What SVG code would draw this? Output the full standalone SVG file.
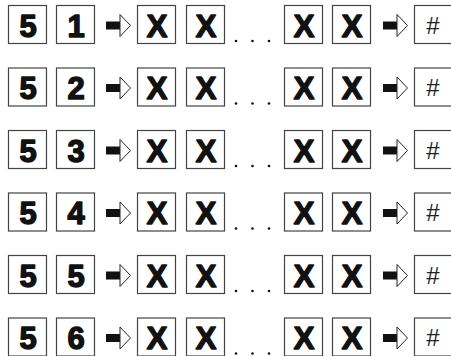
<svg xmlns="http://www.w3.org/2000/svg" width="451" height="356" viewBox="0 0 451 356">
<style>
.box{fill:#fff;stroke:#444;stroke-width:1.2}
.big{font-family:"Liberation Sans",Arial,sans-serif;font-weight:bold;font-size:31px;fill:#111;stroke:#111;stroke-width:1.4;stroke-linejoin:round;text-anchor:middle}
.hash{font-family:"Liberation Sans",Arial,sans-serif;font-size:24px;fill:#222;text-anchor:middle}
.bar{fill:#111}
.head{fill:#fff;stroke:#222;stroke-width:1}
.dot{fill:#111}
</style>
<defs>
<g id="arrow">
<rect class="bar" x="0" y="-4" width="14.5" height="8"/>
<polygon class="head" points="14,-11 24.5,0 14,11"/>
</g>
<g id="dots">
<circle class="dot" cx="236" cy="0" r="1.3"/>
<circle class="dot" cx="252.5" cy="0" r="1.3"/>
<circle class="dot" cx="269" cy="0" r="1.3"/>
</g>
</defs>
<g id="rows">
<g id="row1" transform="translate(0,5.5)">
<g id="r1-a"><rect class="box" x="8.5" y="0" width="38" height="38"/><text class="big" x="28" y="31">5</text></g>
<g id="r1-b"><rect class="box" x="56.5" y="0" width="38" height="38"/><text class="big" x="76" y="31">1</text></g>
<g id="r1-c"><rect class="box" x="137.5" y="0" width="38" height="38"/><text class="big" x="157" y="31">X</text></g>
<g id="r1-d"><rect class="box" x="186.5" y="0" width="38" height="38"/><text class="big" x="206" y="31">X</text></g>
<g id="r1-e"><rect class="box" x="284.5" y="0" width="38" height="38"/><text class="big" x="304" y="31">X</text></g>
<g id="r1-f"><rect class="box" x="332.5" y="0" width="38" height="38"/><text class="big" x="352" y="31">X</text></g>
<g id="r1-g"><rect class="box" x="414.5" y="0" width="38" height="38"/><text class="hash" x="433" y="28">#</text></g>
</g>
<g id="row2" transform="translate(0,68)">
<g id="r2-a"><rect class="box" x="8.5" y="0" width="38" height="38"/><text class="big" x="28" y="31">5</text></g>
<g id="r2-b"><rect class="box" x="56.5" y="0" width="38" height="38"/><text class="big" x="76" y="31">2</text></g>
<g id="r2-c"><rect class="box" x="137.5" y="0" width="38" height="38"/><text class="big" x="157" y="31">X</text></g>
<g id="r2-d"><rect class="box" x="186.5" y="0" width="38" height="38"/><text class="big" x="206" y="31">X</text></g>
<g id="r2-e"><rect class="box" x="284.5" y="0" width="38" height="38"/><text class="big" x="304" y="31">X</text></g>
<g id="r2-f"><rect class="box" x="332.5" y="0" width="38" height="38"/><text class="big" x="352" y="31">X</text></g>
<g id="r2-g"><rect class="box" x="414.5" y="0" width="38" height="38"/><text class="hash" x="433" y="28">#</text></g>
</g>
<g id="row3" transform="translate(0,130.5)">
<g id="r3-a"><rect class="box" x="8.5" y="0" width="38" height="38"/><text class="big" x="28" y="31">5</text></g>
<g id="r3-b"><rect class="box" x="56.5" y="0" width="38" height="38"/><text class="big" x="76" y="31">3</text></g>
<g id="r3-c"><rect class="box" x="137.5" y="0" width="38" height="38"/><text class="big" x="157" y="31">X</text></g>
<g id="r3-d"><rect class="box" x="186.5" y="0" width="38" height="38"/><text class="big" x="206" y="31">X</text></g>
<g id="r3-e"><rect class="box" x="284.5" y="0" width="38" height="38"/><text class="big" x="304" y="31">X</text></g>
<g id="r3-f"><rect class="box" x="332.5" y="0" width="38" height="38"/><text class="big" x="352" y="31">X</text></g>
<g id="r3-g"><rect class="box" x="414.5" y="0" width="38" height="38"/><text class="hash" x="433" y="28">#</text></g>
</g>
<g id="row4" transform="translate(0,193)">
<g id="r4-a"><rect class="box" x="8.5" y="0" width="38" height="38"/><text class="big" x="28" y="31">5</text></g>
<g id="r4-b"><rect class="box" x="56.5" y="0" width="38" height="38"/><text class="big" x="76" y="31">4</text></g>
<g id="r4-c"><rect class="box" x="137.5" y="0" width="38" height="38"/><text class="big" x="157" y="31">X</text></g>
<g id="r4-d"><rect class="box" x="186.5" y="0" width="38" height="38"/><text class="big" x="206" y="31">X</text></g>
<g id="r4-e"><rect class="box" x="284.5" y="0" width="38" height="38"/><text class="big" x="304" y="31">X</text></g>
<g id="r4-f"><rect class="box" x="332.5" y="0" width="38" height="38"/><text class="big" x="352" y="31">X</text></g>
<g id="r4-g"><rect class="box" x="414.5" y="0" width="38" height="38"/><text class="hash" x="433" y="28">#</text></g>
</g>
<g id="row5" transform="translate(0,255.5)">
<g id="r5-a"><rect class="box" x="8.5" y="0" width="38" height="38"/><text class="big" x="28" y="31">5</text></g>
<g id="r5-b"><rect class="box" x="56.5" y="0" width="38" height="38"/><text class="big" x="76" y="31">5</text></g>
<g id="r5-c"><rect class="box" x="137.5" y="0" width="38" height="38"/><text class="big" x="157" y="31">X</text></g>
<g id="r5-d"><rect class="box" x="186.5" y="0" width="38" height="38"/><text class="big" x="206" y="31">X</text></g>
<g id="r5-e"><rect class="box" x="284.5" y="0" width="38" height="38"/><text class="big" x="304" y="31">X</text></g>
<g id="r5-f"><rect class="box" x="332.5" y="0" width="38" height="38"/><text class="big" x="352" y="31">X</text></g>
<g id="r5-g"><rect class="box" x="414.5" y="0" width="38" height="38"/><text class="hash" x="433" y="28">#</text></g>
</g>
<g id="row6" transform="translate(0,318)">
<g id="r6-a"><rect class="box" x="8.5" y="0" width="38" height="38"/><text class="big" x="28" y="31">5</text></g>
<g id="r6-b"><rect class="box" x="56.5" y="0" width="38" height="38"/><text class="big" x="76" y="31">6</text></g>
<g id="r6-c"><rect class="box" x="137.5" y="0" width="38" height="38"/><text class="big" x="157" y="31">X</text></g>
<g id="r6-d"><rect class="box" x="186.5" y="0" width="38" height="38"/><text class="big" x="206" y="31">X</text></g>
<g id="r6-e"><rect class="box" x="284.5" y="0" width="38" height="38"/><text class="big" x="304" y="31">X</text></g>
<g id="r6-f"><rect class="box" x="332.5" y="0" width="38" height="38"/><text class="big" x="352" y="31">X</text></g>
<g id="r6-g"><rect class="box" x="414.5" y="0" width="38" height="38"/><text class="hash" x="433" y="28">#</text></g>
</g>
</g>
<g id="connectors">
<use href="#arrow" x="106" y="25.5"/><use href="#arrow" x="383" y="25.5"/><use href="#dots" y="41"/>
<use href="#arrow" x="106" y="88"/><use href="#arrow" x="383" y="88"/><use href="#dots" y="103.5"/>
<use href="#arrow" x="106" y="150.5"/><use href="#arrow" x="383" y="150.5"/><use href="#dots" y="166"/>
<use href="#arrow" x="106" y="213"/><use href="#arrow" x="383" y="213"/><use href="#dots" y="228.5"/>
<use href="#arrow" x="106" y="275.5"/><use href="#arrow" x="383" y="275.5"/><use href="#dots" y="291"/>
<use href="#arrow" x="106" y="338"/><use href="#arrow" x="383" y="338"/><use href="#dots" y="353.5"/>
</g>
</svg>
